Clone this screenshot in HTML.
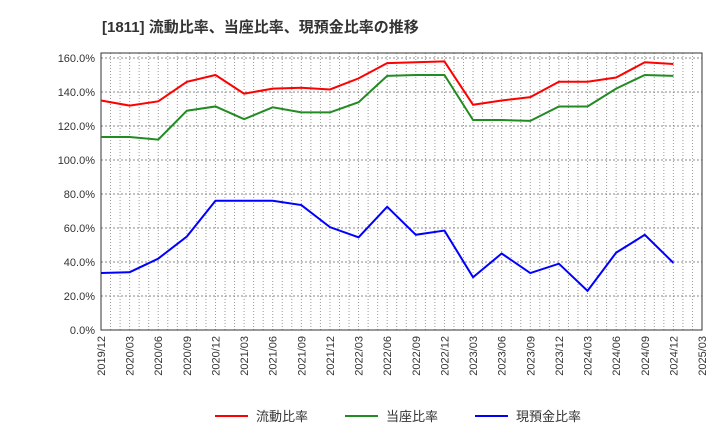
<!DOCTYPE html>
<html><head><meta charset="utf-8"><style>
body{margin:0;background:#fff;font-family:"Liberation Sans","Noto Sans CJK JP",sans-serif}
</style></head><body>
<svg width="720" height="440" xmlns="http://www.w3.org/2000/svg" id="svg" font-family="Liberation Sans, Noto Sans CJK JP, sans-serif">
<text x="102" y="32" font-size="15" font-weight="bold" fill="#333">[1811]  流動比率、当座比率、現預金比率の推移</text>
<g id="grid"></g>
<g id="axes"></g>
<g id="lines"></g>
<g>
<line x1="215" y1="416" x2="248" y2="416" stroke="#ff0000" stroke-width="2"/>
<text x="256" y="421" font-size="13" fill="#333">流動比率</text>
<line x1="345" y1="416" x2="378" y2="416" stroke="#228b22" stroke-width="2"/>
<text x="386" y="421" font-size="13" fill="#333">当座比率</text>
<line x1="475" y1="416" x2="508" y2="416" stroke="#0000ff" stroke-width="2"/>
<text x="516" y="421" font-size="13" fill="#333">現預金比率</text>
</g>
</svg>
<script>
const categories=["2019/12","2020/03","2020/06","2020/09","2020/12","2021/03","2021/06","2021/09","2021/12","2022/03","2022/06","2022/09","2022/12","2023/03","2023/06","2023/09","2023/12","2024/03","2024/06","2024/09","2024/12","2025/03"];
const currentRatio=[135,132,134.5,146,150,139,142,142.5,141.5,148,157,157.5,158,132.5,135,137,146,146,148.5,157.5,156.5];
const quickRatio=[113.5,113.5,112,129,131.5,124,131,128,128,134,149.5,150,150,123.5,123.5,123,131.5,131.5,142,150,149.5];
const cashRatio=[33.5,34,42,55,76,76,76,73.5,60.5,54.5,72.5,56,58.5,31,45,33.5,39,23,45.5,56,39.5];
const yTicks=[0,20,40,60,80,100,120,140,160];
const L=101,R=702,T=53,B=330;
const xs=i=>L+i*(R-L)/(categories.length-1);
const ys=v=>B-v*(B-58)/160;
const NS="http://www.w3.org/2000/svg";
const mk=(t,a,p)=>{const e=document.createElementNS(NS,t);for(const k in a)e.setAttribute(k,a[k]);p.appendChild(e);return e;};
const grid=document.getElementById('grid'),axes=document.getElementById('axes'),lines=document.getElementById('lines');
for(let m=1;m<(categories.length-1)*3;m++){const x=L+m*(R-L)/((categories.length-1)*3);
const g=mk('line',{x1:x,x2:x,y1:T,y2:B,stroke:'#999','stroke-dasharray':'1,2','stroke-width':1},grid);

}
yTicks.forEach(v=>{const y=ys(v);
const g=mk('line',{x1:L,x2:R,y1:y,y2:y,stroke:'#888','stroke-dasharray':'2,2','stroke-width':1},grid);


const t=mk('text',{x:L-6,y:y+4,'text-anchor':'end','font-size':11,fill:'#333'},axes);t.textContent=v.toFixed(1)+'%';

});
const box=mk('rect',{x:L,y:T,width:R-L,height:B-T,fill:'none',stroke:'#333'},axes);


categories.forEach((c,i)=>{const x=xs(i);
const t=mk('text',{transform:`translate(${x+4},${B+6}) rotate(-90)`,'text-anchor':'end','font-size':11,fill:'#333'},axes);t.textContent=c;

});
[[currentRatio,'#ff0000','current-ratio-line'],[quickRatio,'#228b22','quick-ratio-line'],[cashRatio,'#0000ff','cash-ratio-line']].forEach(([d,c,n])=>{
const p=mk('polyline',{points:d.map((v,i)=>xs(i)+','+ys(v)).join(' '),fill:'none',stroke:c,'stroke-width':2},lines);

});
</script>
</body></html>
